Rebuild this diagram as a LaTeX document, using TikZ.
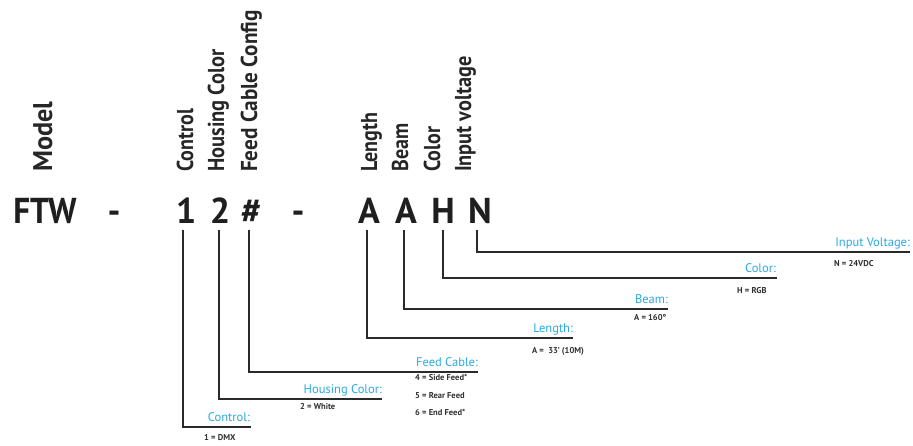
\documentclass[tikz,border=0pt]{standalone}
\usepackage{fontspec}
\setmainfont{PT Sans}
\definecolor{lblue}{HTML}{29A9E1}
\definecolor{lineg}{HTML}{2A2A2A}
\definecolor{valg}{HTML}{303030}
\begin{document}
\begin{tikzpicture}[x=1pt,y=-1pt,
  hdr/.style={rotate=90,anchor=base west,inner sep=0pt,font=\fontsize{23}{23}\selectfont\bfseries,text=black!85},
  code/.style={anchor=base,inner sep=0pt,font=\fontsize{36}{36}\selectfont\bfseries,text=black!88},
  conn/.style={draw=lineg,line width=1.3pt},
  lab/.style={anchor=base east,inner sep=0pt,font=\fontsize{12.5}{12.5}\selectfont,text=lblue},
  val/.style={anchor=base west,inner sep=0pt,font=\fontsize{8.5}{8.5}\selectfont\bfseries,text=valg}]
\useasboundingbox (0,0) rectangle (913,445);
% headers
\node[hdr,font=\fontsize{27}{27}\selectfont\bfseries] (hmodel) at (52,172) {\scalebox{0.97}[1]{Model}};
\node[hdr] (hctl) at (193,172) {\scalebox{0.87}[1]{Control}};
\node[hdr] (hhc) at (224,172) {\scalebox{0.89}[1]{Housing Color}};
\node[hdr] (hfc) at (257,172) {\scalebox{0.92}[1]{Feed Cable Config}};
\node[hdr] (hlen) at (377,172) {\scalebox{0.87}[1]{Length}};
\node[hdr] (hbeam) at (408,172) {\scalebox{0.87}[1]{Beam}};
\node[hdr] (hcol) at (440,172) {\scalebox{0.87}[1]{Color}};
\node[hdr] (hin) at (471,172) {\scalebox{0.88}[1]{Input voltage}};
% code
\node[code] (cftw) at (45,223) {\scalebox{0.92}[1]{FTW}};
\node[code] (cd1) at (114,223) {-};
\node[code] (c1) at (186,223) {1};
\node[code] (c2) at (220,223) {2};
\node[code] (c3) at (251,223) {\#};
\node[code] (cd2) at (298,223) {-};
\node[code] (c4) at (369,223) {A};
\node[code] (c5) at (406,223) {A};
\node[code] (c6) at (443,223) {H};
\node[code] (c7) at (480,223) {N};
% connector start / end points
\coordinate (v1) at (183,230); \coordinate (e1) at (251,427);
\coordinate (v2) at (219,230); \coordinate (e2) at (382,399);
\coordinate (v3) at (249,230); \coordinate (e3) at (478,372);
\coordinate (v4) at (367,230); \coordinate (e4) at (573,338);
\coordinate (v5) at (404,230); \coordinate (e5) at (668,309);
\coordinate (v6) at (443,230); \coordinate (e6) at (777,278);
\coordinate (v7) at (477,230); \coordinate (e7) at (910,252);
\foreach \i in {1,...,7}{\draw[conn] (v\i) |- (e\i);}
% labels
\node[lab] (l1) at (250,421.5) {Control:};
\node[val] (d1) at (204,440) {1 = DMX};
\node[lab] (l2) at (382,393.5) {Housing Color:};
\node[val] (d2) at (300,409) {2 = White};
\node[lab] (l3) at (478,366) {Feed Cable:};
\node[val] (d3a) at (415,380) {4 = Side Feed*};
\node[val] (d3b) at (415,398) {5 = Rear Feed};
\node[val] (d3c) at (415,415) {6 = End Feed*};
\node[lab] (l4) at (573,332.5) {Length:};
\node[val] (d4) at (532,353) {A =\ \ 33' (10M)};
\node[lab] (l5) at (668,303.5) {Beam:};
\node[val] (d5) at (634,320) {A = 160°};
\node[lab] (l6) at (776,272.5) {Color:};
\node[val] (d6) at (737,293) {H = RGB};
\node[lab] (l7) at (910,246.5) {Input Voltage:};
\node[val] (d7) at (834,266) {N = 24VDC};
\end{tikzpicture}
\end{document}
